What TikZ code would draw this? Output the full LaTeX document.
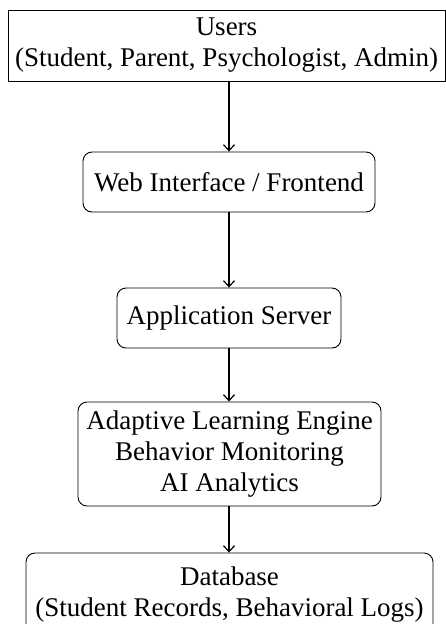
\documentclass[tikz,border=0pt]{standalone}
\usepackage{fontspec}
\setmainfont{Liberation Serif}
\usetikzlibrary{arrows.meta}
\begin{document}
\begin{tikzpicture}[x=1pt,y=-1pt,
  box/.style={draw=black, line width=0.9pt, inner sep=0pt, align=center,
    font=\fontsize{27}{31}\selectfont},
  rbox/.style={box, rounded corners=9pt},
  arr/.style={draw=black, line width=1.2pt, -{Straight Barb[length=6pt,width=11pt]}}]
\clip (0,0) rectangle (446,624);
\node[box, minimum width=437pt, minimum height=71pt] (users) at (226.5,45.5)
  {Users\\(Student, Parent, Psychologist, Admin)};
\node[rbox, minimum width=292pt, minimum height=60pt] (web) at (229,182)
  {Web Interface / Frontend};
\node[rbox, minimum width=224pt, minimum height=60pt] (app) at (229,318)
  {Application Server};
\node[rbox, minimum width=303pt, minimum height=104pt] (engine) at (229.5,454)
  {Adaptive Learning Engine\\Behavior Monitoring\\AI Analytics};
\node[rbox, minimum width=407pt, minimum height=83pt] (db) at (229.5,594.5)
  {Database\\(Student Records, Behavioral Logs)};
\draw[arr] (web.north |- users.south) -- (web.north);
\draw[arr] (web.south) -- (app.north);
\draw[arr] (app.south) -- (app.south |- engine.north);
\draw[arr] (app.south |- engine.south) -- (app.south |- db.north);
\end{tikzpicture}
\end{document}
